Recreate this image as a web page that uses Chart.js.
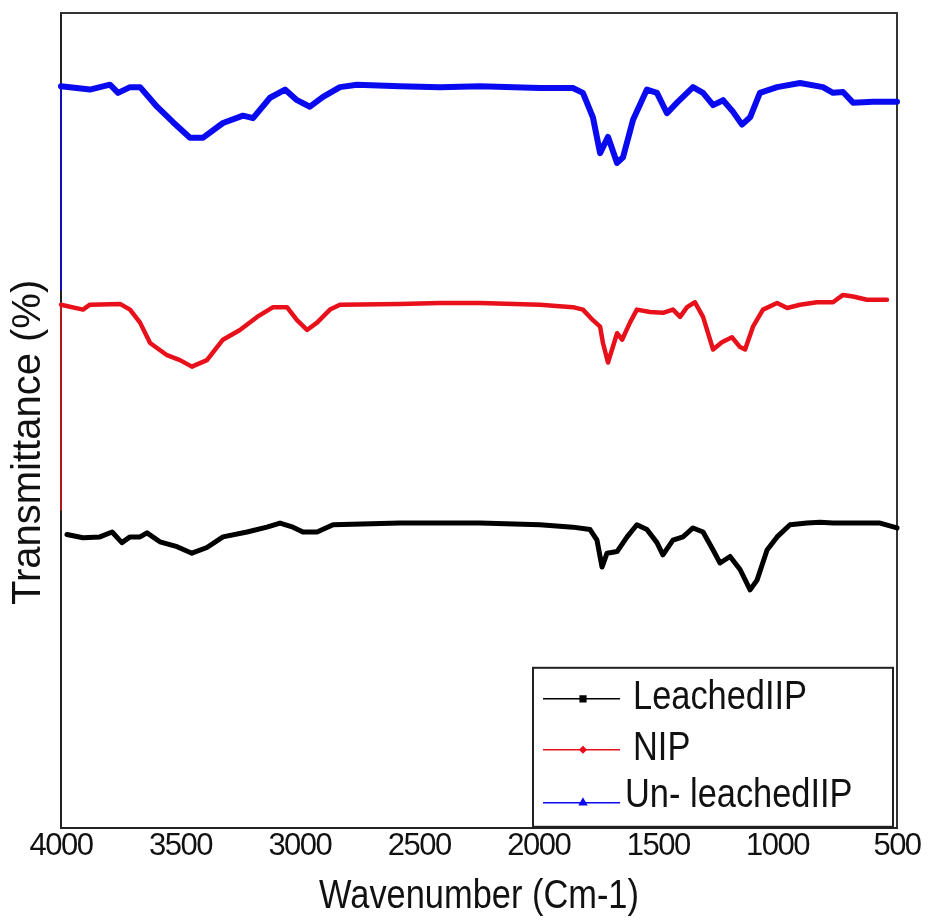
<!DOCTYPE html>
<html><head><meta charset="utf-8">
<script src="https://cdn.jsdelivr.net/npm/chart.js@4.4.1/dist/chart.umd.min.js"></script>
<style>html,body{margin:0;padding:0;background:#fff;} #wrap{width:929px;height:921px;}</style>
</head><body><div id="wrap"><canvas id="c" width="929" height="921"></canvas></div>
<script>
// ---- data ----
const seriesNames = ["LeachedIIP", "NIP", "Un- leachedIIP"];
const seriesColors = ["#000000", "#e8101a", "#0a0af0"];

const leachedWavenumber = [3975,3908,3837,3786,3745,3711,3669,3640,3586,3514,3452,3389,3322,3221,3138,3083,3029,2987,2928,2861,2581,2413,2246,1995,1857,1785,1756,1735,1714,1672,1630,1589,1547,1505,1480,1438,1396,1354,1312,1270,1241,1199,1157,1115,1086,1044,1002,948,877,822,768,655,571,500];
const leachedT = [36.0,35.6,35.7,36.3,35.0,35.7,35.7,36.2,35.1,34.5,33.7,34.4,35.7,36.3,36.9,37.4,36.9,36.3,36.3,37.2,37.4,37.4,37.4,37.2,36.9,36.6,35.3,32.0,33.7,33.9,35.7,37.2,36.6,35.0,33.5,35.3,35.7,36.8,36.3,34.1,32.5,33.3,31.7,29.2,30.4,34.1,35.7,37.2,37.4,37.5,37.4,37.4,37.4,36.8];

const nipWavenumber = [4000,4000,3908,3879,3753,3711,3669,3627,3556,3502,3452,3389,3322,3251,3179,3112,3054,3012,2970,2928,2874,2832,2581,2413,2246,1995,1857,1815,1773,1743,1731,1710,1693,1672,1651,1618,1589,1534,1480,1438,1408,1379,1346,1312,1270,1233,1191,1157,1136,1103,1061,1002,960,906,835,768,726,684,626,542];
const nipT = [39.0,64.2,63.6,64.2,64.3,63.6,62.0,59.5,58.0,57.4,56.6,57.4,59.9,61.1,62.7,63.9,63.9,62.3,61.1,62.0,63.6,64.2,64.3,64.4,64.4,64.2,63.9,63.6,62.3,61.5,59.5,57.1,58.7,60.7,59.9,62.0,63.6,63.3,63.2,63.6,62.7,63.9,64.5,62.7,58.7,59.6,60.2,59.0,58.7,61.5,63.6,64.4,63.8,64.2,64.5,64.5,65.4,65.2,64.8,64.8];

const unleachedWavenumber = [4000,4000,3879,3795,3761,3711,3669,3598,3531,3460,3405,3322,3238,3196,3125,3062,3012,2958,2903,2832,2761,2581,2413,2246,1995,1857,1815,1773,1743,1710,1672,1647,1605,1547,1505,1463,1421,1354,1312,1270,1228,1187,1149,1115,1074,1002,906,810,768,726,684,600,500];
const unleachedT = [66.0,91.0,90.6,91.2,90.2,90.9,90.9,88.5,86.6,84.7,84.7,86.5,87.4,87.1,89.6,90.6,89.3,88.5,89.7,90.9,91.2,91.0,90.9,91.0,90.8,90.8,90.2,87.2,82.8,84.8,81.6,82.3,86.9,90.6,90.2,87.7,89.0,90.9,90.2,88.7,89.3,87.9,86.3,87.2,90.2,90.9,91.4,90.9,90.2,90.3,89.0,89.1,89.1];

const xTickValues = [4000, 3500, 3000, 2500, 2000, 1500, 1000, 500];
const xTickLabels = ["4000", "3500", "3000", "2500", "2000", "1500", "1000", "500"];
const xTitle = "Wavenumber (Cm-1)";
const yTitle = "Transmittance (%)";

const REGULAR = "'Liberation Sans', Arial, sans-serif";

function pts(xs, ys) { return xs.map((x, i) => ({ x: x, y: ys[i] })); }

const datasets = [
  { label: seriesNames[0], data: pts(leachedWavenumber, leachedT), borderColor: seriesColors[0], borderWidth: 5, pointStyle: 'rect' },
  { label: seriesNames[1], data: pts(nipWavenumber, nipT), borderColor: seriesColors[1], borderWidth: 4.5, pointStyle: 'rectRot' },
  { label: seriesNames[2], data: pts(unleachedWavenumber, unleachedT), borderColor: seriesColors[2], borderWidth: 6, pointStyle: 'triangle' }
].map(d => Object.assign(d, {
  pointRadius: 0, tension: 0, fill: false, clip: false, borderJoinStyle: 'round', borderCapStyle: 'round',
  segment: { borderWidth: ctx => (ctx.p0.parsed.x === ctx.p1.parsed.x ? 1.5 : undefined) }
}));

// condensed text for x-axis title and tick labels (the reference uses a narrow face)
const condensePlugin = {
  id: 'condense',
  beforeDraw(chart) {
    const xs = chart.scales.x;
    if (xs && !xs._condensed) {
      xs._condensed = true;
      const dt = xs.drawTitle.bind(xs);
      xs.drawTitle = function () {
        const c = this.ctx, cx = (this.left + this.right) / 2;
        c.save(); c.translate(cx, 0); c.scale(0.86, 1); c.translate(-cx, 0); dt(); c.restore();
      };
      const dl = xs.drawLabels.bind(xs);
      xs.drawLabels = function (ca) {
        const c = this.ctx; c.save(); c.letterSpacing = '-1.5px'; dl(ca); c.restore();
      };
    }
    const ys = chart.scales.y;
    if (ys && !ys._shifted) {
      ys._shifted = true;
      const dty = ys.drawTitle.bind(ys);
      ys.drawTitle = function () {
        const c = this.ctx; c.save(); c.translate(0, 22); dty(); c.restore();
      };
    }
  }
};

const framePlugin = {
  id: 'frame',
  beforeDatasetsDraw(chart) {
    const { ctx, chartArea: a } = chart;
    ctx.save();
    ctx.strokeStyle = '#333';
    ctx.lineWidth = 2;
    ctx.beginPath();
    ctx.moveTo(a.left, a.top); ctx.lineTo(a.right, a.top); ctx.lineTo(a.right, a.bottom);
    ctx.stroke();
    ctx.restore();
  }
};

const legendPlugin = {
  id: 'boxLegend',
  afterDatasetsDraw(chart) {
    const { ctx, chartArea: a } = chart;
    const right = a.right - 4, bottom = a.bottom - 1;
    const left = right - 360, top = bottom - 159;
    ctx.save();
    ctx.fillStyle = '#fff';
    ctx.fillRect(left, top, right - left, bottom - top);
    ctx.strokeStyle = '#222';
    ctx.lineWidth = 2;
    ctx.strokeRect(left, top, right - left, bottom - top);
    const rows = [
      { ty: top + 30, ly: top + 31, tx: left + 100 },
      { ty: top + 81, ly: top + 82, tx: left + 100 },
      { ty: top + 128, ly: top + 135, tx: left + 92 }
    ];
    chart.data.datasets.forEach((ds, i) => {
      const r = rows[i];
      ctx.strokeStyle = ds.borderColor;
      ctx.lineWidth = 1.5;
      ctx.beginPath(); ctx.moveTo(left + 10, r.ly); ctx.lineTo(left + 87, r.ly); ctx.stroke();
      ctx.fillStyle = ds.borderColor;
      Chart.helpers.drawPoint(ctx, { pointStyle: ds.pointStyle, radius: i === 1 ? 3 : 4, rotation: 0, borderWidth: 1 }, left + 50, r.ly);
      ctx.fill();
      ctx.fillStyle = '#111';
      ctx.font = '40px ' + REGULAR;
      ctx.textBaseline = 'middle';
      ctx.textAlign = 'left';
      ctx.save();
      ctx.translate(r.tx, r.ty);
      ctx.scale(0.86, 1);
      ctx.fillText(ds.label, 0, 0);
      ctx.restore();
    });
    ctx.restore();
  }
};

new Chart(document.getElementById('c'), {
  type: 'line',
  data: { datasets: datasets },
  plugins: [condensePlugin, framePlugin, legendPlugin],
  options: {
    responsive: false,
    devicePixelRatio: 1,
    animation: false,
    layout: { padding: { top: 13, right: 32, bottom: 0, left: 0 } },
    plugins: { legend: { display: false }, tooltip: { enabled: false } },
    scales: {
      x: {
        type: 'linear', reverse: true, min: 500, max: 4000,
        afterBuildTicks: s => { s.ticks = xTickValues.map(v => ({ value: v })); },
        ticks: {
          autoSkip: false, maxRotation: 0, padding: 0, color: '#111',
          font: { family: REGULAR, size: 31 },
          callback: v => xTickLabels[xTickValues.indexOf(v)]
        },
        grid: { display: false, drawTicks: false },
        border: { display: true, color: '#222', width: 2 },
        title: { display: true, text: xTitle, color: '#111', font: { family: REGULAR, size: 40 }, padding: { top: 8, bottom: 0 } }
      },
      y: {
        type: 'linear', min: 0, max: 100,
        ticks: { display: false },
        grid: { display: false, drawTicks: false },
        border: { display: true, color: '#222', width: 2 },
        title: { display: true, text: yTitle, color: '#111', font: { family: REGULAR, size: 40 }, padding: { top: 5, bottom: 8 } }
      }
    }
  }
});
</script>
</body></html>
